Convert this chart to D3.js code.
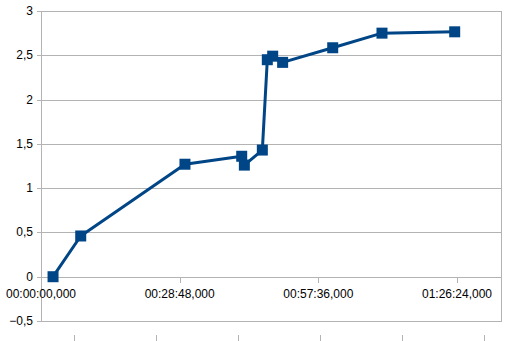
<!DOCTYPE html>
<html>
<head>
<meta charset="utf-8">
<script src="https://cdn.jsdelivr.net/npm/d3@7"></script>
<style>
	body { margin: 0; background: #fff; }
	text { font-family: 'Liberation Sans', Arial, sans-serif; font-size: 12px; fill: #000; }
</style>
</head>
<body>
<svg id="chart" width="506" height="341"></svg>
<script>
// elapsed time of each measurement and the measured value
const times = ['00:02:30', '00:08:15', '00:29:54', '00:41:41', '00:42:14', '00:45:58', '00:47:00', '00:48:07', '00:50:11', '01:00:35', '01:10:49', '01:25:55'];
const values = [0, 0.46, 1.27, 1.36, 1.26, 1.43, 2.45, 2.49, 2.42, 2.585, 2.75, 2.765];
const yTicks = [-0.5, 0, 0.5, 1, 1.5, 2, 2.5, 3];
const xTicks = ['00:00:00', '00:28:48', '00:57:36', '01:26:24'];

const toSeconds = (s) => {
	const p = s.split(':').map(Number);
	return p[0] * 3600 + p[1] * 60 + p[2];
};

const pad = (n) => String(n).padStart(2, '0');
const fmtTime = (sec) => pad(Math.floor(sec / 3600)) + ':' + pad(Math.floor(sec / 60) % 60) + ':' + pad(sec % 60) + ',000';

const locale = d3.formatLocale({ decimal: ',', thousands: '.', grouping: [3], currency: ['', ''] });
const fmtY = locale.format('~g');

const svg = d3.select('#chart');
const plotLeft = 41, plotRight = 501, plotTop = 11, plotBottom = 321;

const x = d3.scaleLinear().domain([0, 5732]).range([plotLeft, plotRight]);
const y = d3.scaleLinear().domain([-0.5, 3]).range([plotBottom, plotTop]);
const grid = '#b3b3b3';

// horizontal grid
svg.append('g')
	.selectAll('line')
	.data(yTicks)
	.enter()
	.append('line')
	.attr('x1', plotLeft - 4)
	.attr('x2', plotRight)
	.attr('y1', (d) => Math.round(y(d)) + 0.5)
	.attr('y2', (d) => Math.round(y(d)) + 0.5)
	.attr('stroke', grid);

// frame sides
svg.append('line').attr('x1', plotLeft + 0.5).attr('x2', plotLeft + 0.5).attr('y1', plotTop).attr('y2', plotBottom + 1).attr('stroke', grid);
svg.append('line').attr('x1', plotRight + 0.5).attr('x2', plotRight + 0.5).attr('y1', plotTop).attr('y2', plotBottom + 1).attr('stroke', grid);

// y labels
svg.append('g')
	.selectAll('text')
	.data(yTicks)
	.enter()
	.append('text')
	.attr('x', plotLeft - 8)
	.attr('y', (d) => y(d) + 4)
	.attr('text-anchor', 'end')
	.text((d) => fmtY(d));

// x axis ticks on the zero line
const xt = xTicks.map(toSeconds);
svg.append('g')
	.selectAll('line')
	.data(xt)
	.enter()
	.append('line')
	.attr('x1', (d) => Math.round(x(d)) + 0.5)
	.attr('x2', (d) => Math.round(x(d)) + 0.5)
	.attr('y1', Math.round(y(0)))
	.attr('y2', Math.round(y(0)) + 6)
	.attr('stroke', grid);

svg.append('g')
	.selectAll('text')
	.data(xt)
	.enter()
	.append('text')
	.attr('x', (d) => x(d))
	.attr('y', y(0) + 21)
	.attr('text-anchor', 'middle')
	.text((d) => fmtTime(d));

// stray ticks of a secondary axis below the chart
const bx = d3.scaleLinear().domain([0, 5]).range([74, 484]);
svg.append('g')
	.selectAll('line')
	.data(d3.range(6))
	.enter()
	.append('line')
	.attr('x1', (d) => Math.round(bx(d)) + 0.5)
	.attr('x2', (d) => Math.round(bx(d)) + 0.5)
	.attr('y1', 335)
	.attr('y2', 341)
	.attr('stroke', grid);

// series
const data = times.map((t, i) => ({ t: toSeconds(t), v: values[i] }));
const color = '#004586';

svg.append('path')
	.datum(data)
	.attr('fill', 'none')
	.attr('stroke', color)
	.attr('stroke-width', 3)
	.attr('stroke-linejoin', 'round')
	.attr('d', d3.line().x((d) => x(d.t)).y((d) => y(d.v)));

svg.append('g')
	.selectAll('rect')
	.data(data)
	.enter()
	.append('rect')
	.attr('x', (d) => x(d.t) - 5.5)
	.attr('y', (d) => y(d.v) - 5.5)
	.attr('width', 11)
	.attr('height', 11)
	.attr('fill', color);
</script>
</body>
</html>
